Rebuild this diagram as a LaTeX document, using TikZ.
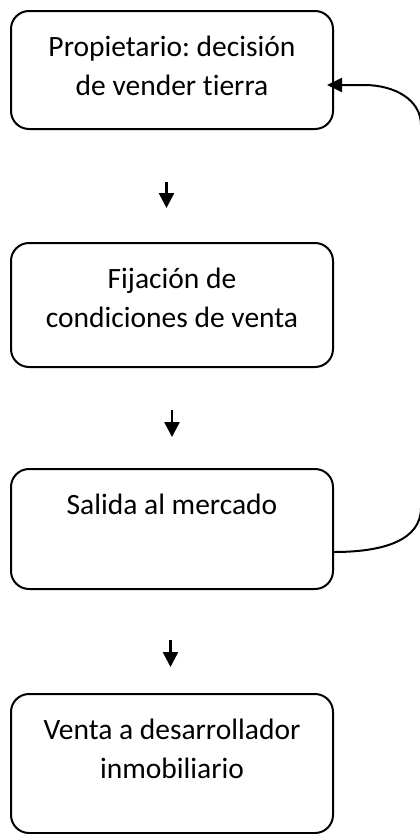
\documentclass[tikz,border=0pt]{standalone}
\usepackage{fontspec}
\setmainfont{Carlito}[Ligatures={NoCommon}]
\usetikzlibrary{arrows.meta}
\frenchspacing
\newcommand\boxtext[3]{\parbox[c][#1][t]{322bp}{\fontsize{29.5bp}{39bp}\selectfont\frenchspacing\centering\vspace*{#2}\strut #3}}
\begin{document}
\begin{tikzpicture}[x=1bp,y=-1bp,
  box/.style={draw=black,line width=2bp,rounded corners=18bp,inner sep=0pt,anchor=north west},
  down/.style={line width=2.6bp,-{Triangle[length=15bp,width=15bp]}},
  back/.style={line width=2bp,-{Triangle[length=15bp,width=14bp]}}]
\useasboundingbox (0,0) rectangle (419,834);
\node[box] (b1) at (10,10)  {\boxtext{118bp}{17.7bp}{Propietario: decisión\\de vender tierra}};
\node[box] (b2) at (10,242) {\boxtext{124bp}{17.7bp}{Fijación de\\condiciones de venta}};
\node[box] (b3) at (10,468) {\boxtext{120bp}{17.7bp}{Salida al mercado}};
\node[box] (b4) at (10,693) {\boxtext{139bp}{17.7bp}{Venta a desarrollador\\inmobiliario}};
\coordinate (a1s) at (166.5,182); \coordinate (a1e) at (166.5,208);
\coordinate (a2s) at (172,410);   \coordinate (a2e) at (172,437);
\coordinate (a3s) at (170.5,640); \coordinate (a3e) at (170.5,667);
\draw[down] (a1s) -- (a1e);
\draw[down] (a2s) -- (a2e);
\draw[down] (a3s) -- (a3e);
\draw[back] ([yshift=-23bp]b3.east) .. controls +(50,0) and (421,540) .. (421,508)
  -- (421,125) .. controls (421,100) and (395,85) .. ([xshift=30bp,yshift=-15bp]b1.east)
  -- ([xshift=-7bp,yshift=-15bp]b1.east);
\end{tikzpicture}
\end{document}
